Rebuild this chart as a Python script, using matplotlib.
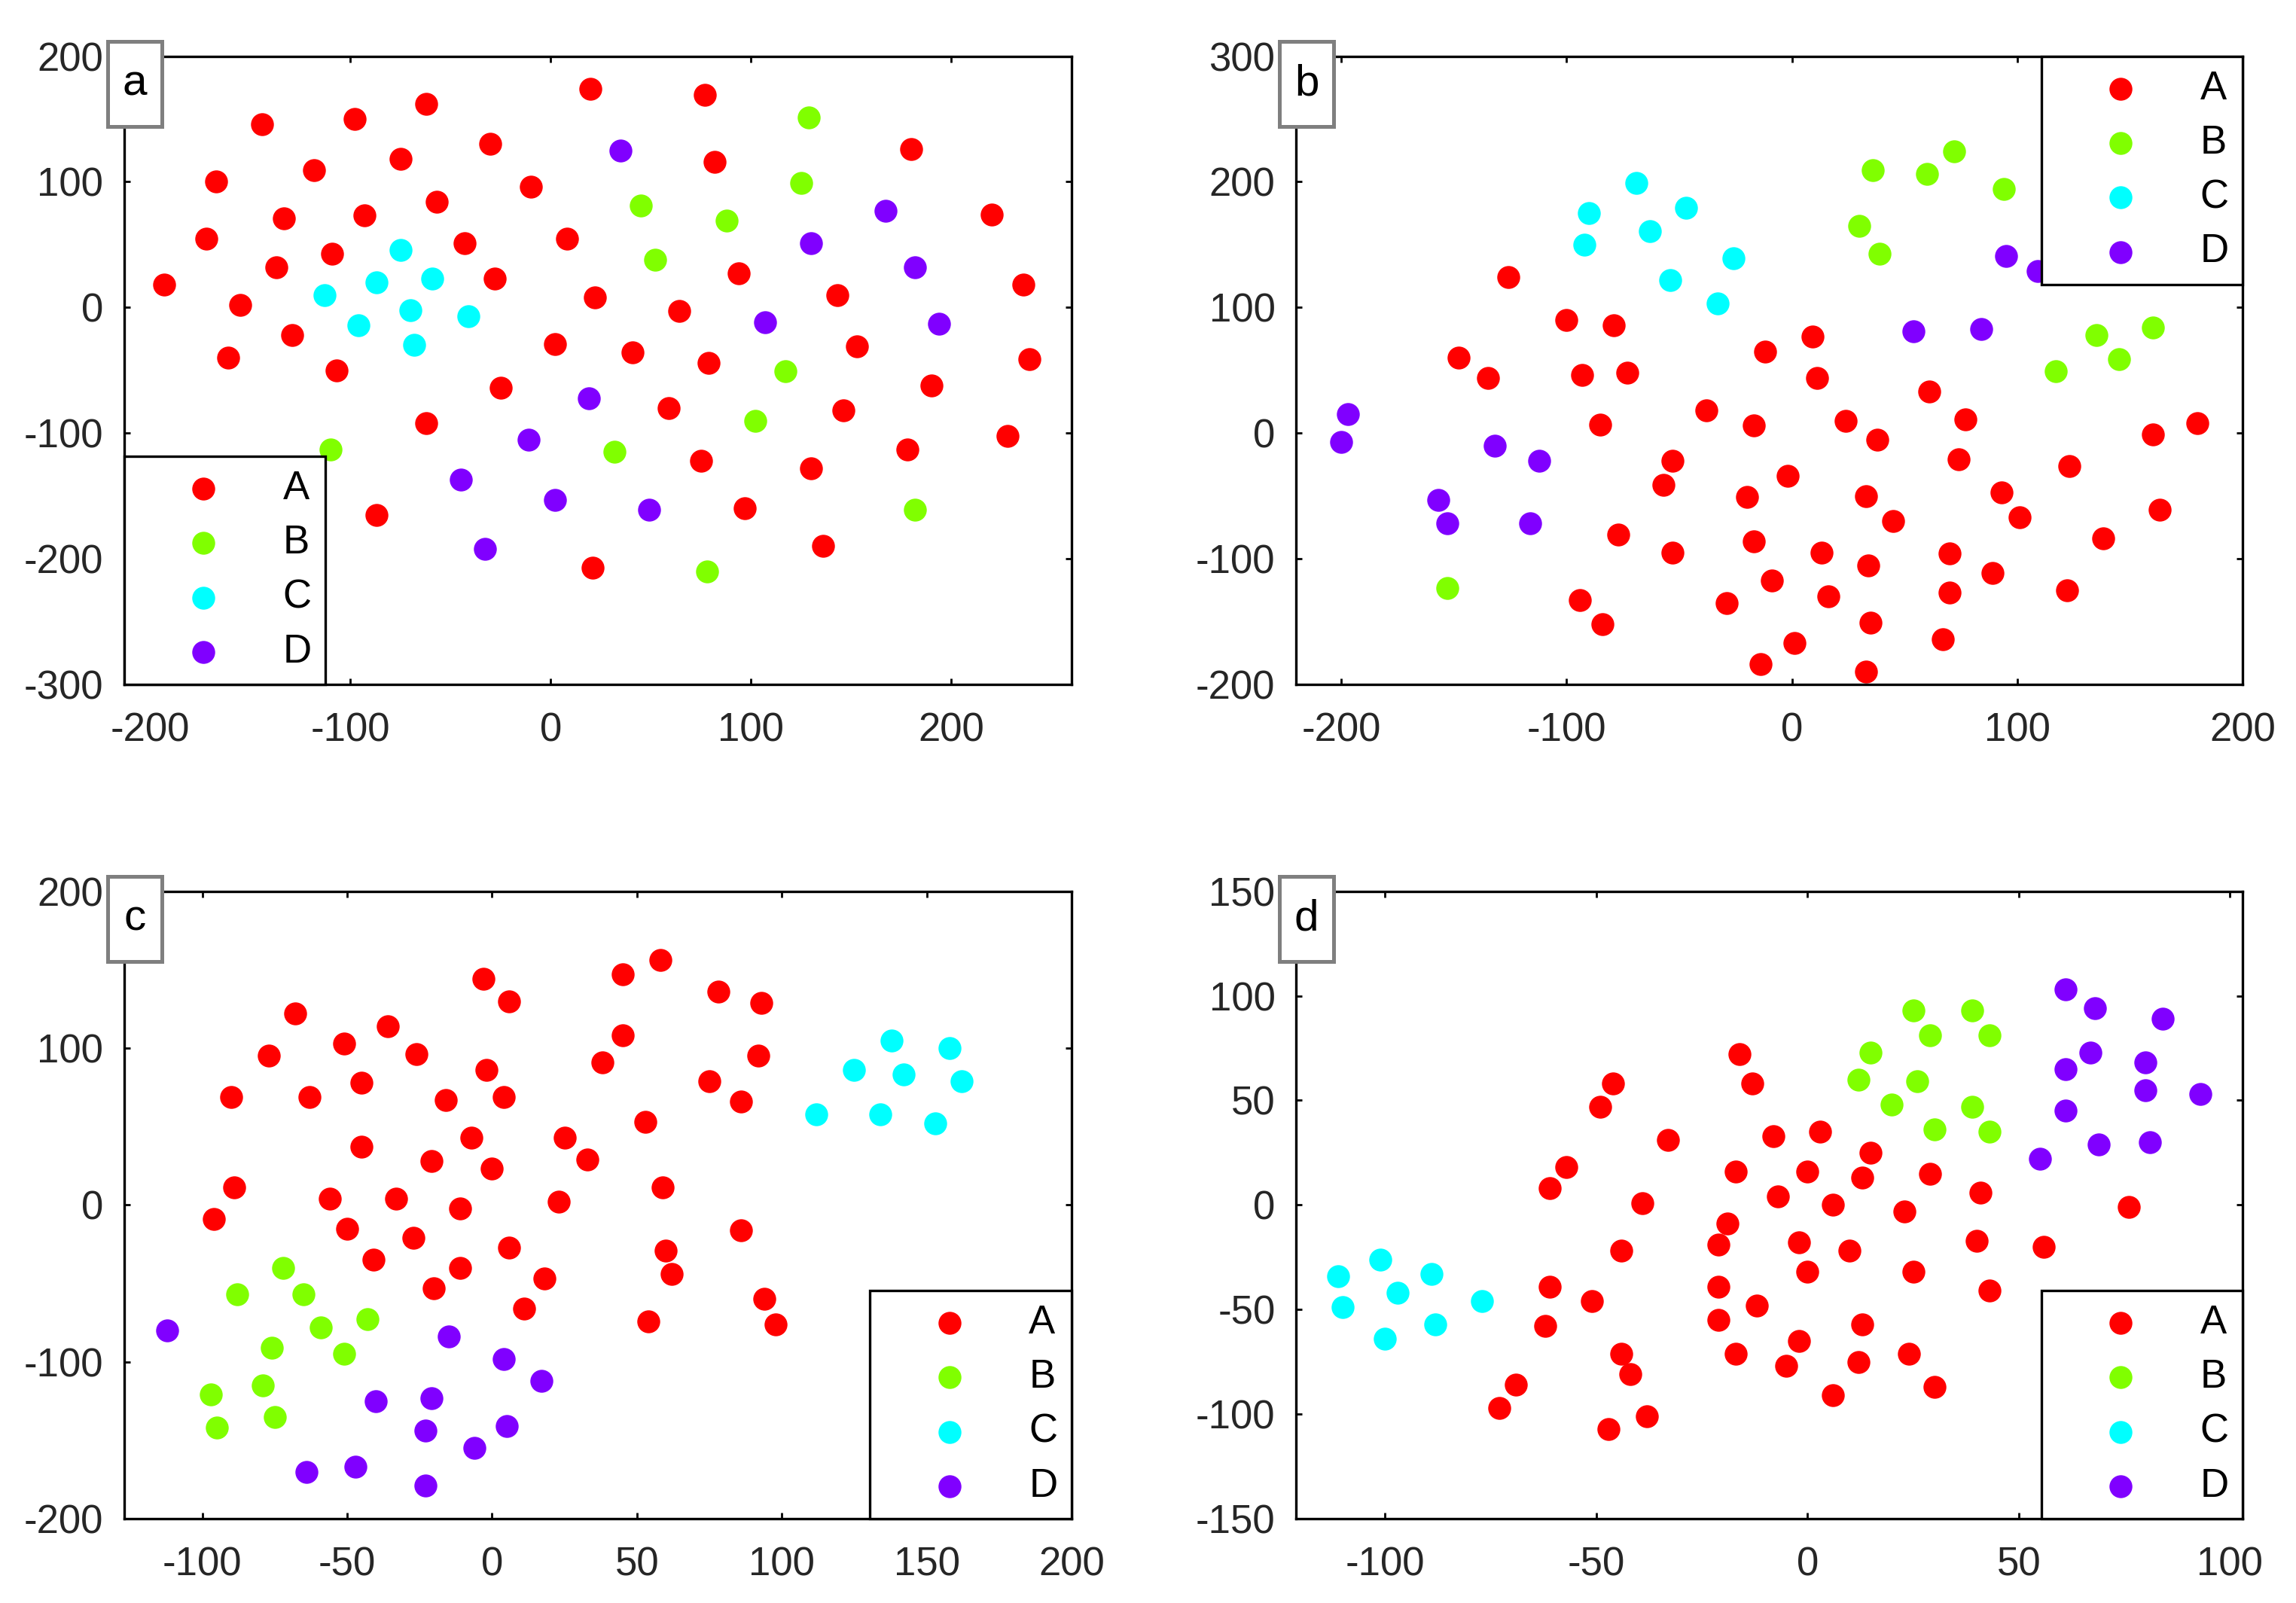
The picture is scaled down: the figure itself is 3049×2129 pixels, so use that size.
import numpy as np
import matplotlib
matplotlib.use("Agg")
import matplotlib.pyplot as plt
from matplotlib.patches import Rectangle

plt.rcParams['font.family'] = ['Liberation Sans', 'DejaVu Sans']
plt.rcParams['axes.unicode_minus'] = False

classes = ['A', 'B', 'C', 'D']
# hsv(4) colours
colors = ['#ff0000', '#80ff00', '#00ffff', '#8000ff']

# ---- panel a ----
a_A = np.array([(20, 174), (77, 169), (180, 126), (82, 116), (-30, 130), (-62, 162), (-98, 150),
                (-144, 146), (-75, 118), (-118, 109), (-167, 100), (-10, 96), (-57, 84), (-133, 71),
                (-93, 73), (220, 74), (-172, 55), (8, 55), (-43, 51), (-109, 43), (-137, 32),
                (94, 27), (-28, 23), (-193, 18), (236, 18), (143, 10), (22, 8), (-155, 2),
                (64, -3), (-129, -22), (2, -29), (41, -36), (-161, -40), (239, -41), (79, -44),
                (153, -31), (-107, -50), (190, -62), (-25, -64), (59, -80), (146, -82), (-62, -92),
                (228, -102), (178, -113), (75, -122), (130, -128), (97, -160), (-87, -165),
                (136, -190), (21, -207)])
a_B = np.array([(129, 151), (125, 99), (45, 81), (88, 69), (52, 38), (117, -51), (102, -90),
                (-110, -113), (32, -115), (182, -161), (78, -210)])
a_C = np.array([(-75, 46), (-87, 20), (-59, 23), (-113, 10), (-70, -2), (-41, -7), (-96, -14),
                (-68, -30)])
a_D = np.array([(35, 125), (167, 77), (130, 51), (182, 32), (107, -12), (194, -13), (19, -72),
                (-11, -105), (-45, -137), (2, -153), (49, -161), (-33, -192)])

# ---- panel b ----
b_A = np.array([(-126, 124), (-100, 90), (-79, 86), (-148, 60), (-135, 44), (-93, 46), (-73, 48),
                (-85, 7), (-12, 65), (9, 77), (11, 44), (61, 33), (-38, 18), (-17, 6), (24, 10),
                (38, -5), (77, 11), (180, 8), (160, -1), (-53, -22), (-57, -41), (-2, -34),
                (-20, -51), (33, -50), (74, -21), (123, -26), (93, -47), (101, -67), (163, -61),
                (45, -70), (-77, -81), (-17, -86), (-53, -95), (13, -95), (34, -105), (70, -96),
                (138, -84), (-9, -117), (89, -111), (16, -130), (70, -127), (122, -125),
                (-94, -133), (-29, -135), (-84, -152), (35, -151), (1, -167), (67, -164),
                (-14, -184), (33, -190)])
b_B = np.array([(36, 209), (60, 206), (72, 224), (94, 194), (30, 165), (39, 143), (135, 78),
                (160, 84), (145, 59), (117, 49), (-153, -123)])
b_C = np.array([(-69, 199), (-90, 175), (-47, 179), (-63, 161), (-92, 150), (-26, 139), (-54, 122),
                (-33, 103)])
b_D = np.array([(95, 141), (109, 129), (54, 81), (84, 83), (-197, 15), (-200, -7), (-132, -10),
                (-112, -22), (-157, -53), (-153, -72), (-116, -72)])

# ---- panel c ----
c_A = np.array([(-3, 144), (6, 130), (58, 156), (45, 147), (78, 136), (93, 129), (-68, 122),
                (-36, 114), (-51, 103), (-77, 95), (-26, 96), (45, 108), (92, 95), (38, 91),
                (-2, 86), (-90, 69), (-63, 69), (-45, 78), (-16, 67), (4, 69), (75, 79), (86, 66),
                (53, 53), (-7, 43), (25, 43), (-45, 37), (33, 29), (-21, 28), (0, 23), (-89, 11),
                (59, 11), (-56, 4), (-33, 4), (23, 2), (-11, -2), (-96, -9), (-50, -15), (86, -16),
                (-27, -21), (6, -27), (60, -29), (-41, -35), (-11, -40), (62, -44), (18, -47),
                (-20, -53), (94, -60), (11, -66), (54, -74), (98, -76)])
c_B = np.array([(-72, -40), (-88, -57), (-65, -57), (-43, -73), (-59, -78), (-76, -91), (-51, -95),
                (-79, -115), (-97, -121), (-75, -135), (-95, -142)])
c_C = np.array([(138, 105), (158, 100), (125, 86), (142, 83), (162, 79), (112, 58), (134, 58),
                (153, 52)])
c_D = np.array([(-112, -80), (-15, -84), (4, -98), (17, -112), (-40, -125), (-21, -123), (-23, -144),
                (5, -141), (-6, -155), (-47, -167), (-64, -170), (-23, -179)])

# ---- panel d ----
d_A = np.array([(-16, 72), (-13, 58), (-46, 58), (-49, 47), (-33, 31), (-8, 33), (3, 35), (15, 25),
                (-57, 18), (-61, 8), (-17, 16), (0, 16), (13, 13), (29, 15), (-7, 4), (41, 6),
                (-39, 1), (6, 0), (76, -1), (23, -3), (-19, -9), (-21, -19), (-2, -18), (40, -17),
                (56, -20), (-44, -22), (10, -22), (0, -32), (25, -32), (-61, -39), (-21, -39),
                (43, -41), (-51, -46), (-12, -48), (-21, -55), (13, -57), (-62, -58), (-2, -65),
                (-44, -71), (-17, -71), (24, -71), (12, -75), (-5, -77), (-42, -81), (-69, -86),
                (6, -91), (30, -87), (-73, -97), (-38, -101), (-47, -107)])
d_B = np.array([(25, 93), (39, 93), (29, 81), (43, 81), (15, 73), (12, 60), (26, 59), (20, 48),
                (39, 47), (30, 36), (43, 35)])
d_C = np.array([(-101, -26), (-111, -34), (-89, -33), (-97, -42), (-110, -49), (-77, -46),
                (-88, -57), (-100, -64)])
d_D = np.array([(61, 103), (68, 94), (84, 89), (67, 73), (80, 68), (61, 65), (80, 55), (93, 53),
                (61, 45), (69, 29), (81, 30), (55, 22)])

panels = [
    ('a', [a_A, a_B, a_C, a_D], (-213, 260), (-300, 200), np.arange(-200, 201, 100),
     np.arange(-300, 201, 100), 'lower left'),
    ('b', [b_A, b_B, b_C, b_D], (-220, 200), (-200, 300), np.arange(-200, 201, 100),
     np.arange(-200, 301, 100), 'upper right'),
    ('c', [c_A, c_B, c_C, c_D], (-127, 200), (-200, 200), np.arange(-100, 201, 50),
     np.arange(-200, 201, 100), 'lower right'),
    ('d', [d_A, d_B, d_C, d_D], (-121, 103), (-150, 150), np.arange(-100, 101, 50),
     np.arange(-150, 151, 50), 'lower right'),
]

# axes rectangles [left, bottom, width, height] in figure fraction
positions = [
    [0.054, 0.573, 0.4127, 0.392],
    [0.5645, 0.573, 0.4123, 0.392],
    [0.054, 0.0526, 0.4127, 0.3914],
    [0.5645, 0.0526, 0.4123, 0.3914],
]

fig = plt.figure(figsize=(15.245, 10.645), dpi=200)

for (name, groups, xl, yl, xt, yt, loc), pos in zip(panels, positions):
    ax = fig.add_axes(pos)
    for pts, lab, col in zip(groups, classes, colors):
        ax.scatter(pts[:, 0], pts[:, 1], s=120, c=col, linewidths=0, label=lab, zorder=2)
    ax.set_xlim(*xl)
    ax.set_ylim(*yl)
    ax.set_xticks(xt)
    ax.set_yticks(yt)
    ax.tick_params(direction='in', length=3, width=1, top=True, right=True,
                   labelsize=19, labelcolor='#262626', pad=10)
    ax.tick_params(axis='x', pad=13)
    for sp in ax.spines.values():
        sp.set_linewidth(1.2)
        sp.set_color('black')
    leg = ax.legend(loc=loc, borderaxespad=0, fontsize=19, scatterpoints=1, fancybox=False,
                    framealpha=1, edgecolor='black', borderpad=0.35, handlelength=3.3,
                    handletextpad=0.35, labelspacing=0.42)
    leg.get_frame().set_linewidth(1.2)

    # panel letter box straddling the top-left corner
    bx = pos[0] - 0.0072
    by = pos[1] + pos[3] - 0.0437
    fig.add_artist(Rectangle((bx, by), 0.0236, 0.053, transform=fig.transFigure,
                             facecolor='white', edgecolor='#7f7f7f', linewidth=1.8, zorder=5))
    fig.text(bx + 0.0118, by + 0.0265, name, fontsize=21, ha='center', va='center',
             color='black', zorder=6)

fig.savefig('out.png', dpi=200)
